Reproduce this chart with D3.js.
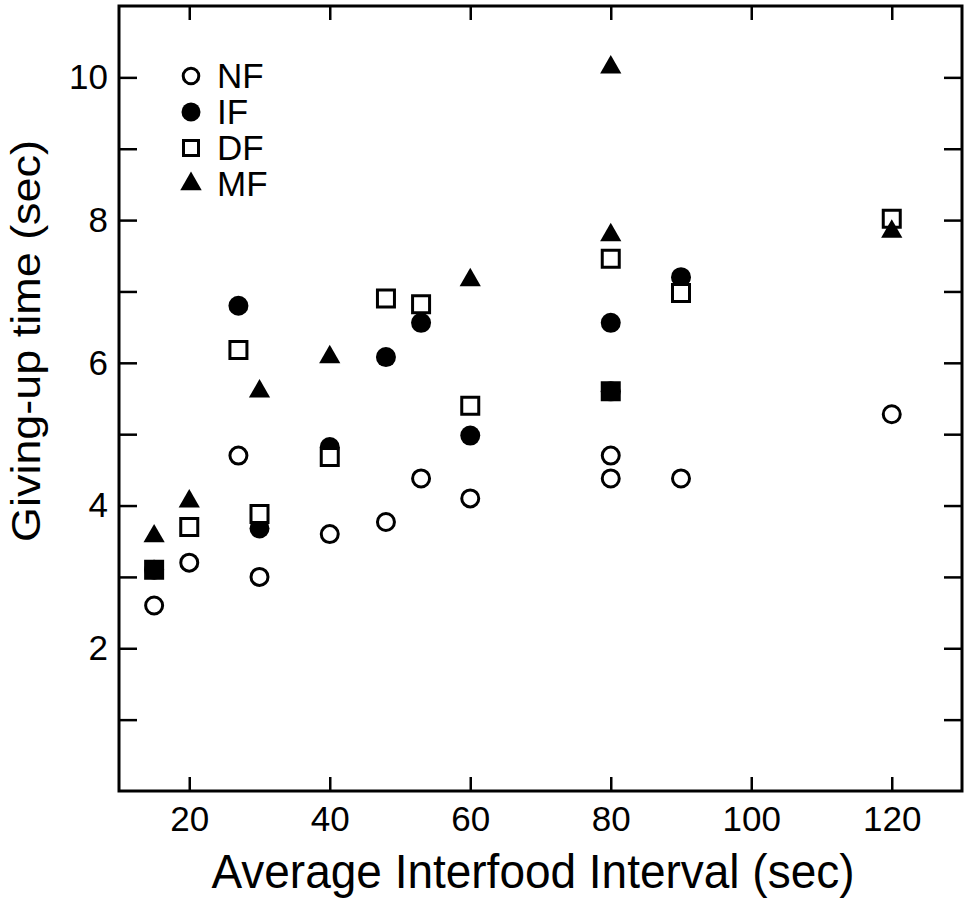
<!DOCTYPE html>
<html>
<head>
<meta charset="utf-8">
<script src="https://cdn.jsdelivr.net/npm/d3@7"></script>
<style>
  body { margin: 0; background: #fff; }
  svg text { font-family: "Liberation Sans", Arial, sans-serif; fill: #000; }
</style>
</head>
<body>
<script>
// values
var xTicks = [20, 40, 60, 80, 100, 120];
var yTicks = [1, 2, 3, 4, 5, 6, 7, 8, 9, 10];

var nfX = [15, 20, 27, 30, 40, 48, 53, 60, 80, 80, 90, 120];
var nfY = [2.6, 3.2, 4.7, 3.0, 3.6, 3.77, 4.38, 4.1, 4.7, 4.38, 4.38, 5.28];
var ifX = [15, 27, 30, 40, 48, 53, 60, 80, 80, 90];
var ifY = [3.1, 6.8, 3.68, 4.82, 6.08, 6.56, 4.98, 6.56, 5.6, 7.2];
var dfX = [15, 20, 27, 30, 40, 48, 53, 60, 80, 80, 90, 120];
var dfY = [3.1, 3.7, 6.18, 3.88, 4.68, 6.9, 6.82, 5.4, 7.46, 5.6, 6.98, 8.02];
var mfX = [15, 20, 30, 40, 60, 80, 80, 120];
var mfY = [3.57, 4.06, 5.6, 6.08, 7.16, 10.14, 7.79, 7.84];

var W = 966, H = 903;
var svg = d3.select("body").append("svg")
    .attr("width", W)
    .attr("height", H);

var x = d3.scaleLinear().domain([10, 130]).range([119, 962]);
var y = d3.scaleLinear().domain([0, 11]).range([791, 6]);

function zip(xs, ys) {
	return xs.map(function(v, i) { return {x: v, y: ys[i]}; });
}

var nf = zip(nfX, nfY), inf = zip(ifX, ifY), df = zip(dfX, dfY), mf = zip(mfX, mfY);

// axes, ticks pointing inward
function styleAxis(g) {
	g.select(".domain").remove();
	g.selectAll(".tick line").attr("stroke", "#000").attr("stroke-width", 2.5);
	g.selectAll(".tick text").style("font-size", "35px").attr("fill", "#000");
}

svg.append("g")
    .attr("transform", "translate(0," + y(0) + ")")
    .call(d3.axisBottom(x).tickValues(xTicks).tickSize(-14).tickPadding(15))
    .call(styleAxis);

svg.append("g")
    .attr("transform", "translate(0," + y(11) + ")")
    .call(d3.axisTop(x).tickValues(xTicks).tickSize(-14).tickFormat(""))
    .call(styleAxis);

svg.append("g")
    .attr("transform", "translate(" + x(10) + ",0)")
    .call(d3.axisLeft(y).tickValues(yTicks).tickSize(-18).tickPadding(11)
        .tickFormat(function(d) { return d % 2 == 0 ? d : ""; }))
    .call(styleAxis);

svg.append("g")
    .attr("transform", "translate(" + x(130) + ",0)")
    .call(d3.axisRight(y).tickValues(yTicks).tickSize(-18).tickFormat(""))
    .call(styleAxis);

// frame
svg.append("rect")
    .attr("x", x(10))
    .attr("y", y(11))
    .attr("width", x(130) - x(10))
    .attr("height", y(0) - y(11))
    .attr("fill", "none")
    .attr("stroke", "#000")
    .attr("stroke-width", 3);

// axis titles
svg.append("text")
    .attr("x", 533)
    .attr("y", 888)
    .attr("text-anchor", "middle")
    .attr("textLength", 643)
    .attr("lengthAdjust", "spacingAndGlyphs")
    .style("font-size", "48px")
    .text("Average Interfood Interval (sec)");

svg.append("text")
    .attr("transform", "translate(40,341)rotate(-90)")
    .attr("text-anchor", "middle")
    .attr("textLength", 402)
    .attr("lengthAdjust", "spacingAndGlyphs")
    .style("font-size", "40px")
    .text("Giving-up time (sec)");

// markers
var openCircle = d3.symbol().type(d3.symbolCircle).size(Math.PI * 8.5 * 8.5);
var fullCircle = d3.symbol().type(d3.symbolCircle).size(Math.PI * 10 * 10);
var square = d3.symbol().type(d3.symbolSquare).size(17 * 17);
var triangle = d3.symbol().type(d3.symbolTriangle).size(195);

function hasIF(d) {
	return inf.some(function(p) { return p.x == d.x && p.y == d.y; });
}

var series = [
	{name: "NF", data: nf, path: openCircle, fill: function() { return "#fff"; }, stroke: 3},
	{name: "IF", data: inf, path: fullCircle, fill: function() { return "#000"; }, stroke: 0},
	{name: "DF", data: df, path: square, fill: function(d) { return hasIF(d) ? "#000" : "#fff"; }, stroke: 3},
	{name: "MF", data: mf, path: triangle, fill: function() { return "#000"; }, stroke: 0}
];

series.forEach(function(s) {
	svg.append("g").selectAll("path")
	    .data(s.data)
	    .enter()
	    .append("path")
	    .attr("transform", function(d) { return "translate(" + x(d.x) + "," + y(d.y) + ")"; })
	    .attr("d", s.path)
	    .attr("fill", s.fill)
	    .attr("stroke", "#000")
	    .attr("stroke-width", s.stroke);
});

// legend
var legend = svg.append("g").attr("transform", "translate(191,76)");
var legendSym = [
	d3.symbol().type(d3.symbolCircle).size(Math.PI * 7.8 * 7.8),
	d3.symbol().type(d3.symbolCircle).size(Math.PI * 9.5 * 9.5),
	d3.symbol().type(d3.symbolSquare).size(15 * 15),
	d3.symbol().type(d3.symbolTriangle).size(200)
];
series.forEach(function(s, i) {
	var row = legend.append("g").attr("transform", "translate(0," + (i * 36) + ")");
	row.append("path")
	    .attr("d", legendSym[i])
	    .attr("fill", s.name == "NF" || s.name == "DF" ? "#fff" : "#000")
	    .attr("stroke", "#000")
	    .attr("stroke-width", s.stroke);
	row.append("text")
	    .attr("x", 26)
	    .attr("y", 12)
	    .style("font-size", "35px")
	    .text(s.name);
});
</script>
</body>
</html>
